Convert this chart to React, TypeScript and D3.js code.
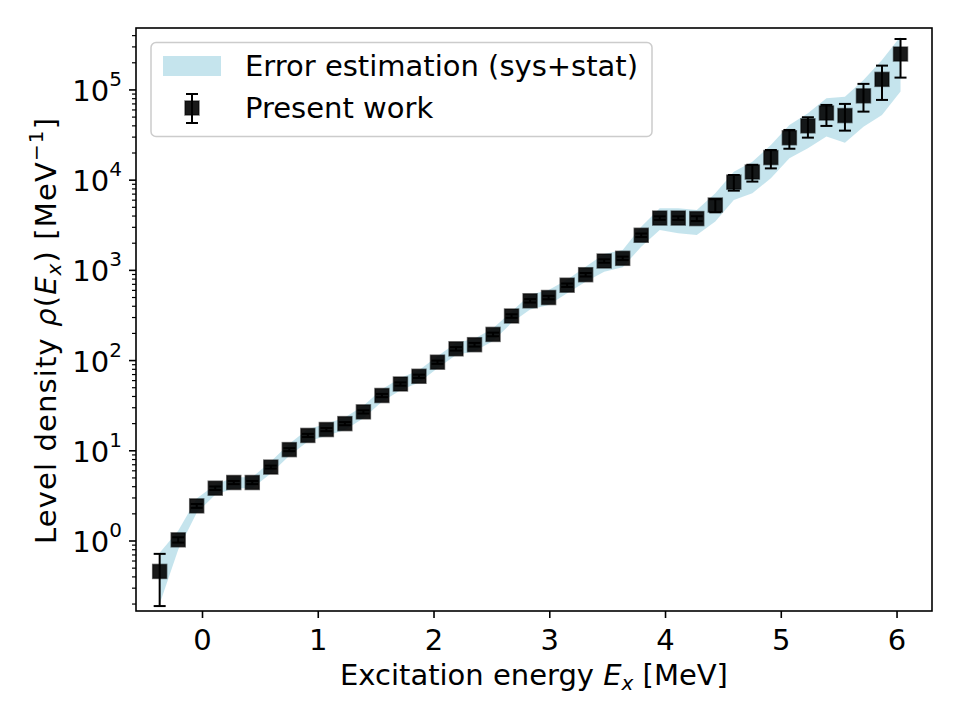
import React, { useEffect } from "react";
import * as d3 from "d3";

// Excitation energy (MeV)
const energies = [-0.37, -0.21, -0.05, 0.11, 0.27, 0.43, 0.59, 0.75, 0.91, 1.07, 1.23, 1.39, 1.55, 1.71, 1.87, 2.03, 2.19, 2.35, 2.51, 2.67, 2.83, 2.99, 3.15, 3.31, 3.47, 3.63, 3.79, 3.95, 4.11, 4.27, 4.43, 4.59, 4.75, 4.91, 5.07, 5.23, 5.39, 5.55, 5.71, 5.87, 6.03];
// Level density (MeV^-1)
const rho = [0.46, 1.03, 2.45, 3.85, 4.45, 4.45, 6.6, 10.3, 14.8, 17.2, 20, 27, 41, 55, 67, 96, 135, 150, 195, 312, 460, 500, 685, 895, 1270, 1360, 2450, 3800, 3800, 3750, 5300, 9500, 12300, 17800, 29500, 40000, 55500, 52000, 86000, 131000, 250000];
// Error bar bounds
const errLow = [0.19, 0.96, 2.33, 3.68, 4.27, 4.27, 6.35, 9.9, 14.2, 16.5, 19.2, 25.9, 39.3, 52.7, 64.2, 92, 129, 143, 186, 298, 440, 478, 655, 855, 1215, 1300, 2340, 3630, 3630, 3520, 4400, 7650, 9640, 13500, 22300, 29600, 39900, 35400, 57500, 77500, 137000];
const errHigh = [0.72, 1.1, 2.57, 4.02, 4.63, 4.63, 6.85, 10.7, 15.4, 17.9, 20.8, 28.1, 42.7, 57.3, 69.8, 100, 141, 157, 204, 326, 480, 522, 715, 935, 1325, 1420, 2560, 3970, 3970, 3980, 6150, 11400, 14800, 21600, 36000, 49800, 68200, 70000, 116700, 186000, 367000];
// Error estimation band (sys+stat)
const bandLow = [0.2, 0.8, 2.05, 3.25, 3.85, 3.85, 5.6, 8.8, 12.7, 14.7, 17.0, 23.0, 35.0, 47, 57, 82, 115, 127, 165, 262, 368, 412, 557, 750, 968, 1080, 1830, 2800, 2580, 2470, 3470, 6030, 7160, 10500, 17500, 22600, 30400, 26000, 39200, 52800, 95800];
const bandHigh = [0.74, 1.3, 2.95, 4.2, 5.1, 5.1, 7.6, 12.0, 17.3, 20.0, 23.4, 31.5, 48, 64, 78, 112, 157, 175, 228, 350, 535, 605, 785, 1100, 1520, 1680, 3050, 4880, 4880, 4670, 7160, 12400, 16000, 24500, 40900, 55200, 80900, 84300, 129000, 215000, 390000];

const xTicks = [0, 1, 2, 3, 4, 5, 6];
const yMajorExps = [0, 1, 2, 3, 4, 5];

const W = 960, H = 720;
const L = 136, R = 932, T = 28, B = 611;
const FONT = "DejaVu Sans, sans-serif";

export default function App() {
  useEffect(() => {
    document.body.style.margin = "0";
  }, []);

  const x = d3.scaleLinear().domain([-0.5745, 6.302]).range([L, R]);
  const y = d3.scaleLog().domain([0.1675, 486000]).range([B, T]);

  const idx = d3.range(energies.length);
  const area = d3
    .area<number>()
    .x((i) => x(energies[i]))
    .y0((i) => y(bandLow[i]))
    .y1((i) => y(bandHigh[i]));

  const [ymin, ymax] = y.domain();
  const minor: number[] = [];
  for (let e = -1; e <= 6; e++) {
    for (let k = 2; k <= 9; k++) {
      const v = k * Math.pow(10, e);
      if (v >= ymin && v <= ymax) minor.push(v);
    }
  }

  const ms = 14; // marker size
  const cap = 6;

  return (
    <svg width={W} height={H} style={{ display: "block" }} fontFamily={FONT}>
      <rect x={0} y={0} width={W} height={H} fill="white" />
      {/* band */}
      <path d={area(idx) || ""} fill="#add8e6" fillOpacity={0.7} stroke="none" />
      {/* error bars */}
      <g stroke="#000" strokeWidth={2}>
        {idx.map((i) => {
          const cx = x(energies[i]);
          return (
            <g key={i}>
              <line x1={cx} x2={cx} y1={y(errLow[i])} y2={y(errHigh[i])} />
              <line x1={cx - cap} x2={cx + cap} y1={y(errLow[i])} y2={y(errLow[i])} />
              <line x1={cx - cap} x2={cx + cap} y1={y(errHigh[i])} y2={y(errHigh[i])} />
            </g>
          );
        })}
      </g>
      {/* markers */}
      <g>
        {idx.map((i) => (
          <rect
            key={i}
            x={x(energies[i]) - ms / 2}
            y={y(rho[i]) - ms / 2}
            width={ms}
            height={ms}
            fill="#000"
            fillOpacity={0.9}
            stroke="#000"
            strokeOpacity={0.55}
            strokeWidth={1.5}
          />
        ))}
      </g>
      {/* frame */}
      <rect x={L} y={T} width={R - L} height={B - T} fill="none" stroke="#000" strokeWidth={1.6} />
      {/* x ticks */}
      {xTicks.map((t) => (
        <g key={t}>
          <line x1={x(t)} x2={x(t)} y1={B} y2={B + 7} stroke="#000" strokeWidth={1.6} />
          <text x={x(t)} y={B + 39} fontSize={29} textAnchor="middle" fill="#000">
            {t}
          </text>
        </g>
      ))}
      {/* y ticks */}
      {minor.map((v, i) => (
        <line key={"m" + i} x1={L - 4} x2={L} y1={y(v)} y2={y(v)} stroke="#000" strokeWidth={1.2} />
      ))}
      {yMajorExps.map((e) => {
        const yy = y(Math.pow(10, e));
        return (
          <g key={e}>
            <line x1={L - 7} x2={L} y1={yy} y2={yy} stroke="#000" strokeWidth={1.6} />
            <text x={L - 14} y={yy + 11} fontSize={29} textAnchor="end" fill="#000">
              10
              <tspan fontSize={20} dy={-15}>{e}</tspan>
            </text>
          </g>
        );
      })}
      {/* x label */}
      <text x={(L + R) / 2} y={685} fontSize={29} textAnchor="middle" fill="#000">
        Excitation energy <tspan fontStyle="italic">E</tspan>
        <tspan fontStyle="italic" fontSize={20} dy={5}>x</tspan>
        <tspan dy={-5}> [MeV]</tspan>
      </text>
      {/* y label */}
      <text
        transform={`translate(56, 331) rotate(-90)`}
        fontSize={29}
        textAnchor="middle"
        fill="#000"
        textLength={426}
        lengthAdjust="spacing"
      >
        Level density <tspan fontStyle="italic">ρ</tspan>(<tspan fontStyle="italic">E</tspan>
        <tspan fontStyle="italic" fontSize={20} dy={5}>x</tspan>
        <tspan dy={-5}>) [MeV</tspan>
        <tspan fontSize={20} dy={-13}>−1</tspan>
        <tspan dy={13}>]</tspan>
      </text>
      {/* legend */}
      <rect x={151} y={42.5} width={501} height={94} rx={5} fill="white" fillOpacity={0.8} stroke="#cccccc" strokeWidth={1.5} />
      <rect x={163} y={56} width={58} height={20} fill="#add8e6" fillOpacity={0.7} />
      <text x={245} y={76} fontSize={29} fill="#000">Error estimation (sys+stat)</text>
      <g stroke="#000" strokeWidth={2}>
        <line x1={192} x2={192} y1={94} y2={123} />
        <line x1={186} x2={198} y1={94} y2={94} />
        <line x1={186} x2={198} y1={123} y2={123} />
      </g>
      <rect x={192 - ms / 2} y={108 - ms / 2} width={ms} height={ms} fill="#000" fillOpacity={0.9} stroke="#000" strokeOpacity={0.55} strokeWidth={1.5} />
      <text x={245} y={118} fontSize={29} fill="#000">Present work</text>
    </svg>
  );
}
